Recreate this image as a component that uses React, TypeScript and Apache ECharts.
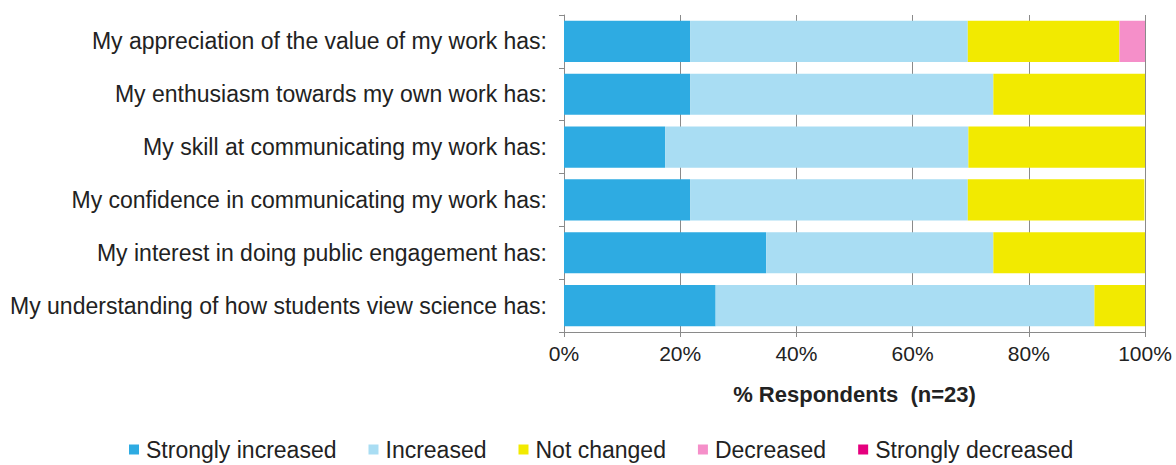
import React, { useEffect, useRef } from "react";
import * as echarts from "echarts";

const categories = [
  "My appreciation of the value of my work has:",
  "My enthusiasm towards my own work has:",
  "My skill at communicating my work has:",
  "My confidence in communicating my work has:",
  "My interest in doing public engagement has:",
  "My understanding of how students view science has:",
];

const seriesNames = [
  "Strongly increased",
  "Increased",
  "Not changed",
  "Decreased",
  "Strongly decreased",
];

const stronglyIncreased = [21.7, 21.7, 17.4, 21.7, 34.8, 26.1];
const increased = [47.8, 52.2, 52.2, 47.8, 39.1, 65.2];
const notChanged = [26.1, 26.1, 30.4, 30.4, 26.1, 8.7];
const decreased = [4.4, 0, 0, 0, 0, 0];
const stronglyDecreased = [0, 0, 0, 0, 0, 0];

const xTicks = [0, 20, 40, 60, 80, 100];

const colors = ["#2EABE2", "#A9DDF3", "#F2EA00", "#F58FC9", "#E5007E"];

const FONT = "Liberation Sans";

export default function App() {
  const ref = useRef<HTMLDivElement>(null);
  useEffect(() => {
    if (!ref.current) return;
    const chart = echarts.init(ref.current, undefined, { renderer: "svg" });
    const values = [stronglyIncreased, increased, notChanged, decreased, stronglyDecreased];
    chart.setOption({
      animation: false,
      color: colors,
      grid: { left: 564, right: 31, top: 15, bottom: 133 },
      legend: {
        top: 433,
        left: 124,
        itemWidth: 10,
        itemHeight: 10,
        itemGap: 32,
        icon: "rect",
        textStyle: { fontFamily: FONT, fontSize: 23, color: "#222", padding: [0, 0, 0, 2] },
        data: seriesNames,
      },
      xAxis: {
        type: "value",
        min: xTicks[0],
        max: xTicks[xTicks.length - 1],
        interval: 20,
        axisLabel: {
          formatter: "{value}%",
          fontFamily: FONT,
          fontSize: 21,
          color: "#222",
          margin: 11,
        },
        axisLine: { show: true, lineStyle: { color: "#8a8a8a" } },
        axisTick: { show: true, length: 5, lineStyle: { color: "#8a8a8a" } },
        splitLine: { show: true, lineStyle: { color: "#8a8a8a" } },
        name: "% Respondents  (n=23)",
        nameLocation: "middle",
        nameGap: 51,
        nameTextStyle: { fontFamily: FONT, fontSize: 22, fontWeight: "bold", color: "#222" },
      },
      yAxis: {
        type: "category",
        inverse: true,
        data: categories,
        axisLine: { show: true, lineStyle: { color: "#8a8a8a" } },
        axisTick: { show: true, length: 5, lineStyle: { color: "#8a8a8a" } },
        axisLabel: { fontFamily: FONT, fontSize: 23, color: "#222", margin: 17 },
      },
      series: seriesNames.map((name, i) => ({
        name,
        type: "bar",
        stack: "total",
        barCategoryGap: "22%",
        data: values[i],
      })),
    });
    return () => chart.dispose();
  }, []);
  return (
    <div
      ref={ref}
      style={{ position: "fixed", left: 0, top: 0, width: 1176, height: 465, background: "#fff" }}
    />
  );
}
